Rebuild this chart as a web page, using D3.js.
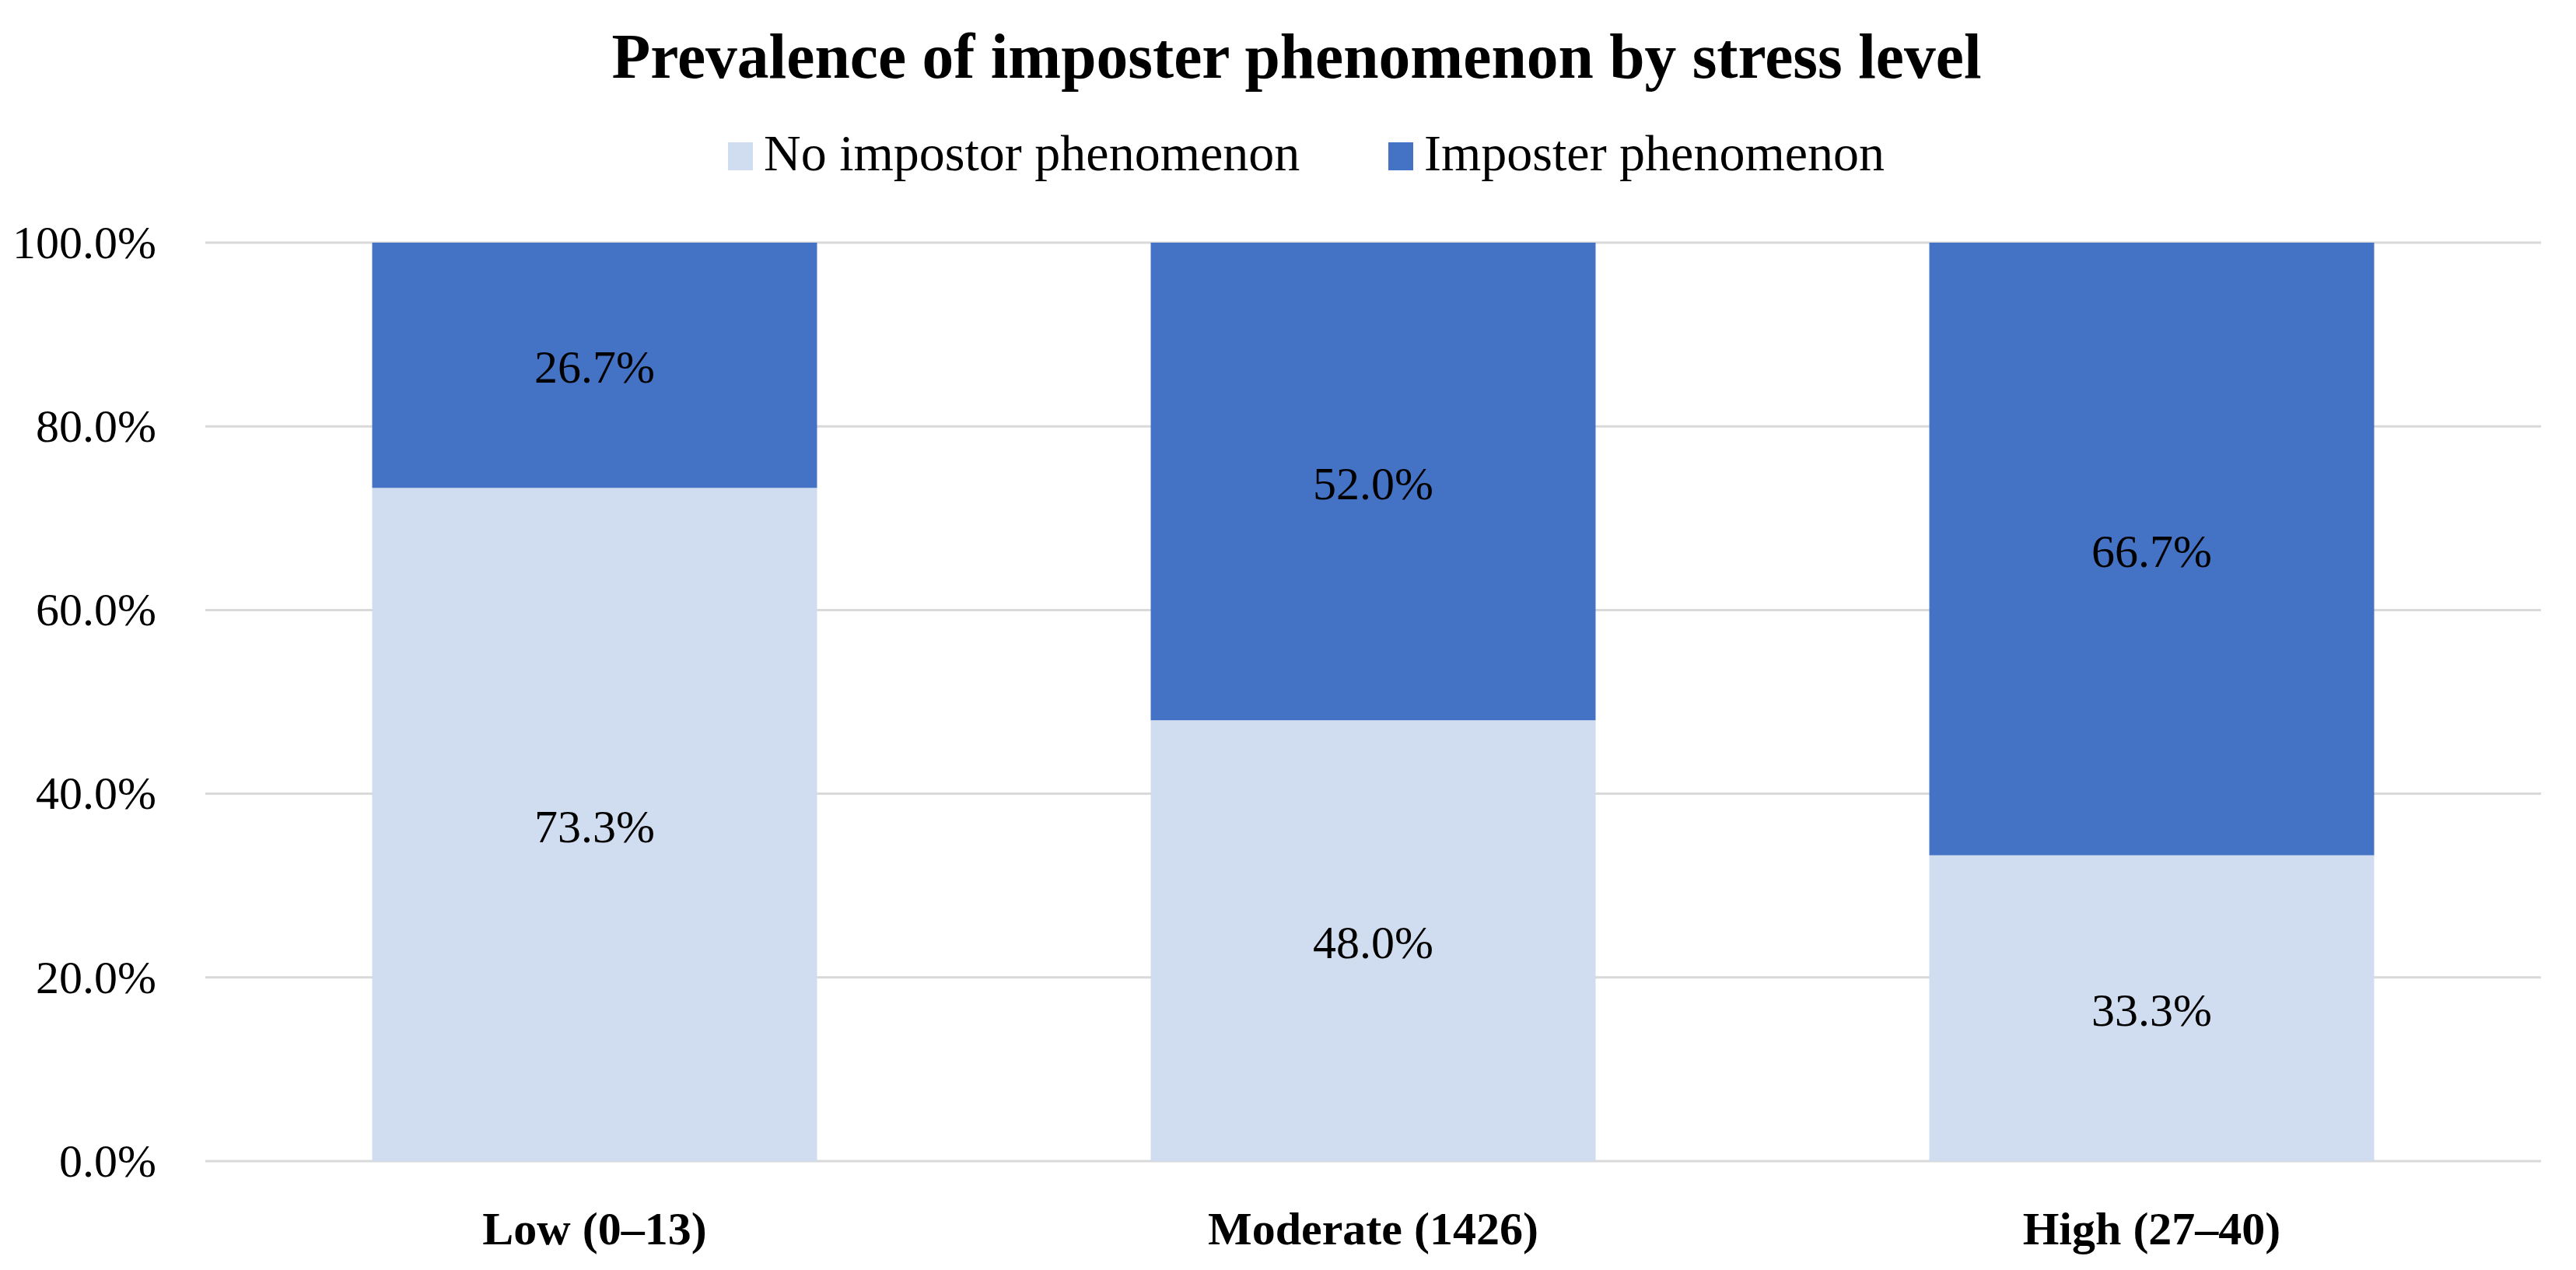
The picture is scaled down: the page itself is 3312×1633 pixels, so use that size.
<!DOCTYPE html>
<html>
<head>
<meta charset="utf-8">
<script src="https://cdn.jsdelivr.net/npm/d3@7"></script>
<style>
  body { margin: 0; background: #fff; }
  text { font-family: "Liberation Serif", "DejaVu Serif", serif; }
</style>
</head>
<body>
<div id="chart"></div>
<script>
// chart data
const categories = ["Low (0\u201313)", "Moderate (1426)", "High (27\u201340)"];
const seriesNames = ["No impostor phenomenon", "Imposter phenomenon"];
const noImpostor = [73.3, 48.0, 33.3];
const impostor = [26.7, 52.0, 66.7];
const yTicks = [0, 20, 40, 60, 80, 100];
const colors = ["#D0DCF0", "#4472C4"];

const width = 3312, height = 1633;
const margin = {top: 312, right: 45, bottom: 140, left: 264};

const svg = d3.select("#chart").append("svg")
    .attr("width", width)
    .attr("height", height)
    .attr("viewBox", "0 0 " + width + " " + height);

const rows = categories.map((c, i) => ({cat: c, no: noImpostor[i], yes: impostor[i]}));
const stack = d3.stack().keys(["no", "yes"]);
const layers = stack(rows);

const x = d3.scaleBand()
    .domain(categories)
    .range([margin.left, width - margin.right])
    .paddingInner(0.4286)
    .paddingOuter(0.2143);

const y = d3.scaleLinear()
    .domain([0, 100])
    .range([height - margin.bottom, margin.top]);

// gridlines
svg.append("g")
    .selectAll("line")
    .data(yTicks)
    .join("line")
    .attr("x1", margin.left)
    .attr("x2", width - margin.right)
    .attr("y1", d => y(d))
    .attr("y2", d => y(d))
    .attr("stroke", "#d9d9d9")
    .attr("stroke-width", 3);

// y axis labels
const yAxis = d3.axisLeft(y)
    .tickValues(yTicks)
    .tickFormat(d => d.toFixed(1) + "%")
    .tickSize(0)
    .tickPadding(63);
svg.append("g")
    .attr("transform", "translate(" + margin.left + ",0)")
    .call(yAxis)
    .call(g => g.select(".domain").remove())
    .selectAll("text")
    .attr("font-size", "60px")
    .attr("font-family", "Liberation Serif")
    .attr("fill", "#000");

// bars
svg.append("g")
    .selectAll("g")
    .data(layers)
    .join("g")
    .attr("fill", (d, i) => colors[i])
    .selectAll("rect")
    .data(d => d)
    .join("rect")
    .attr("x", d => x(d.data.cat))
    .attr("width", x.bandwidth())
    .attr("y", d => y(d[1]))
    .attr("height", d => y(d[0]) - y(d[1]));

// data labels
svg.append("g")
    .selectAll("g")
    .data(layers)
    .join("g")
    .selectAll("text")
    .data(d => d)
    .join("text")
    .attr("x", d => x(d.data.cat) + x.bandwidth() / 2)
    .attr("y", d => (y(d[0]) + y(d[1])) / 2)
    .attr("dy", "0.38em")
    .attr("text-anchor", "middle")
    .attr("font-size", "60px")
    .attr("fill", "#000")
    .text(d => (d[1] - d[0]).toFixed(1) + "%");

// x axis labels
const xAxis = d3.axisBottom(x).tickSize(0).tickPadding(64);
svg.append("g")
    .attr("transform", "translate(0," + (height - margin.bottom) + ")")
    .call(xAxis)
    .call(g => g.select(".domain").remove())
    .selectAll("text")
    .attr("font-size", "60px")
    .attr("font-family", "Liberation Serif")
    .attr("font-weight", "bold")
    .attr("fill", "#000");

// title
svg.append("text")
    .attr("x", 1667)
    .attr("y", 100)
    .attr("text-anchor", "middle")
    .attr("font-size", "81.5px")
    .attr("font-weight", "bold")
    .text("Prevalence of imposter phenomenon by stress level");

// legend
const legendX = [936, 1785];
const legend = svg.append("g")
    .selectAll("g")
    .data(seriesNames)
    .join("g")
    .attr("transform", (d, i) => "translate(" + legendX[i] + ",183)");
legend.append("rect")
    .attr("width", 32)
    .attr("height", 36)
    .attr("fill", (d, i) => colors[i]);
legend.append("text")
    .attr("x", 46)
    .attr("y", 36)
    .attr("font-size", "66px")
    .text(d => d);
</script>
</body>
</html>
